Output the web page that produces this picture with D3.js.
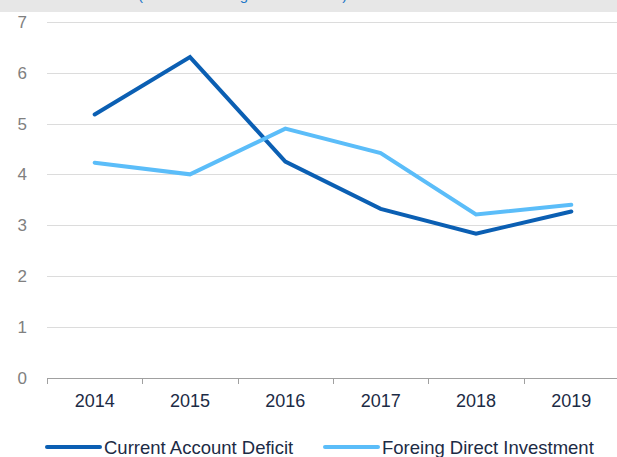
<!DOCTYPE html>
<html><head><meta charset="utf-8">
<script src="https://cdn.jsdelivr.net/npm/d3@7"></script>
<style>html,body{margin:0;padding:0;background:#fff;}svg{display:block;font-family:"Liberation Sans",Arial,sans-serif;}</style>
</head><body>
<script>
const years = ["2014","2015","2016","2017","2018","2019"];
const currentAccountDeficit = [5.18, 6.31, 4.25, 3.32, 2.83, 3.27];
const foreignDirectInvestment = [4.23, 4.00, 4.90, 4.42, 3.21, 3.40];
const yTicks = [0,1,2,3,4,5,6,7];
const seriesNames = ["Current Account Deficit","Foreing Direct Investment"];
const titleText = "(% of the average annual GDP)";

const W = 617, H = 457;
const svg = d3.select("body").append("svg").attr("width", W).attr("height", H);

svg.append("rect").attr("x",0).attr("y",0).attr("width",W).attr("height",12).attr("fill","#e7e7e7");
svg.append("text").attr("x",138).attr("y",0).attr("font-size",15).attr("fill","#1f77c8").text(titleText);

const x = d3.scaleBand().domain(years).range([47, 619]);
const y = d3.scaleLinear().domain([0,7]).range([377.5, 22]);

// grid
svg.append("g").selectAll("line").data(yTicks.filter(d=>d>0)).join("line")
  .attr("x1",47).attr("x2",W).attr("y1",d=>Math.round(y(d))+0.5).attr("y2",d=>Math.round(y(d))+0.5)
  .attr("stroke","#dcdcdc").attr("stroke-width",1);

// y labels
svg.append("g").selectAll("text").data(yTicks).join("text")
  .attr("x",27).attr("y",d=>y(d)+6).attr("text-anchor","end")
  .attr("font-size",17).attr("fill","#808080").text(d=>d);

// x axis
const xAxis = d3.axisBottom(x).tickSize(0).tickPadding(15);
const gx = svg.append("g").attr("transform","translate(0,378)").call(xAxis);
gx.select(".domain").attr("stroke","#a0a0a0").attr("d","M47,0.5H619");
gx.selectAll("text").attr("font-size",18).attr("fill","#1c2b45").attr("font-family","Liberation Sans, Arial, sans-serif").attr("dy","0.75em");
// tick marks at band edges
const edges = years.map(d=>x(d));
svg.append("g").selectAll("line").data(edges).join("line")
  .attr("x1",d=>Math.round(d)+0.5).attr("x2",d=>Math.round(d)+0.5).attr("y1",378).attr("y2",384)
  .attr("stroke","#a0a0a0");

const line = d3.line().x((d,i)=>x(years[i])+x.bandwidth()/2).y(d=>y(d));
const colors = ["#0b5fb3","#5bbdf9"];
[currentAccountDeficit, foreignDirectInvestment].forEach((s,k)=>{
  svg.append("path").datum(s).attr("d",line).attr("fill","none")
    .attr("stroke",colors[k]).attr("stroke-width",4).attr("stroke-linecap","round").attr("stroke-linejoin","miter");
});
// legend
const legX = [47, 325];
seriesNames.forEach((n,k)=>{
  svg.append("line").attr("x1",legX[k]).attr("x2",legX[k]+53).attr("y1",447).attr("y2",447)
    .attr("stroke",colors[k]).attr("stroke-width",4).attr("stroke-linecap","round");
  svg.append("text").attr("x",legX[k]+57).attr("y",453.5).attr("font-size",18.5).attr("fill","#1c2b45").text(n);
});
</script>
</body></html>
